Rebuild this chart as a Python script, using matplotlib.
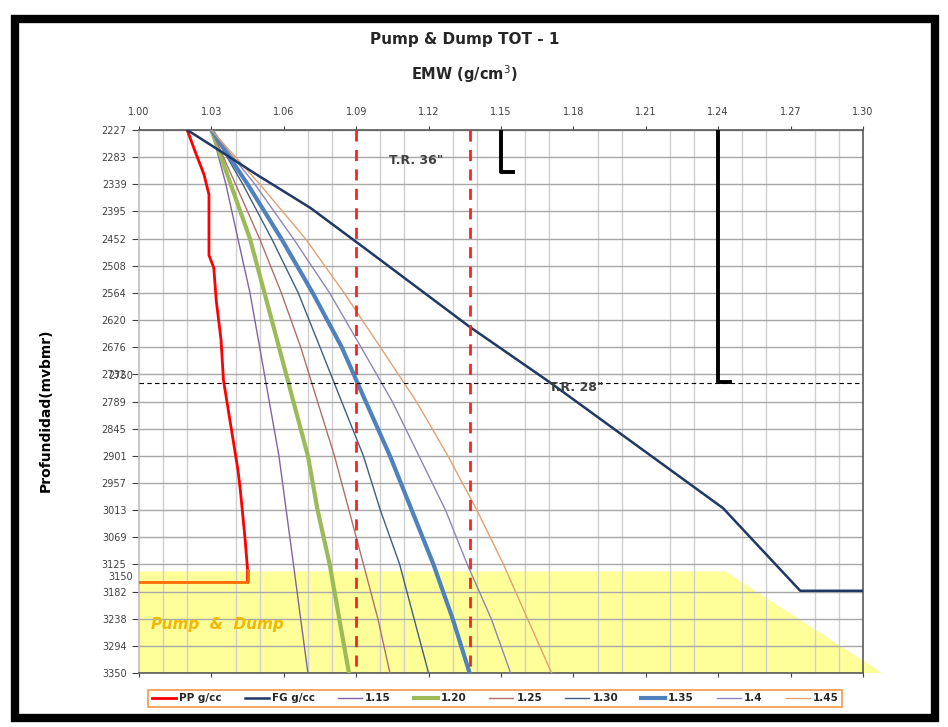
import numpy as np
import matplotlib.pyplot as plt
from matplotlib.patches import Polygon, Rectangle

# ---- data ----
depth_ticks = [2227, 2283, 2339, 2395, 2452, 2508, 2564, 2620, 2676, 2732, 2789,
               2845, 2901, 2957, 3013, 3069, 3125, 3182, 3238, 3294, 3350]
emw_ticks = [1.00, 1.03, 1.06, 1.09, 1.12, 1.15, 1.18, 1.21, 1.24, 1.27, 1.30]

pp_depth = [2227, 2268, 2320, 2361, 2382, 2486, 2512, 2579, 2661, 2744, 2806,
            2868, 2930, 2972, 3023, 3075, 3137, 3162]
pp_emw = [1.020, 1.023, 1.027, 1.029, 1.029, 1.029, 1.031, 1.032, 1.034, 1.035, 1.037,
          1.039, 1.041, 1.042, 1.043, 1.044, 1.045, 1.045]
pp_tail_depth = [3137, 3162, 3162]
pp_tail_emw = [1.045, 1.045, 1.000]

fg_depth = [2227, 2262, 2320, 2388, 2477, 2634, 2748, 3009, 3180, 3180]
fg_emw = [1.020, 1.031, 1.049, 1.071, 1.095, 1.137, 1.170, 1.242, 1.274, 1.300]

fan_depth = [2227, 2339, 2452, 2564, 2676, 2789, 2901, 3013, 3125, 3238, 3350]
fan_115 = [1.030, 1.036, 1.041, 1.046, 1.050, 1.054, 1.058, 1.061, 1.064, 1.067, 1.070]
fan_120 = [1.030, 1.038, 1.046, 1.052, 1.058, 1.064, 1.070, 1.074, 1.079, 1.083, 1.087]
fan_125 = [1.030, 1.040, 1.050, 1.059, 1.067, 1.074, 1.081, 1.087, 1.093, 1.099, 1.104]
fan_130 = [1.030, 1.043, 1.055, 1.066, 1.075, 1.084, 1.093, 1.100, 1.108, 1.114, 1.120]
fan_135 = [1.030, 1.045, 1.059, 1.072, 1.084, 1.094, 1.104, 1.113, 1.122, 1.130, 1.137]
fan_140 = [1.030, 1.048, 1.064, 1.079, 1.092, 1.105, 1.116, 1.127, 1.136, 1.146, 1.154]
fan_145 = [1.030, 1.050, 1.069, 1.085, 1.100, 1.115, 1.128, 1.140, 1.151, 1.161, 1.171]

casing_emw = [1.090, 1.137]
shoe_36 = [1.150, 2314]
shoe_28 = [1.240, 2748]
tr28_depth = 2750
pd_zone_emw = [1.000, 1.243, 1.308, 1.000]
pd_zone_depth = [3140, 3140, 3350, 3350]

fan_styles = [
    ('1.15', fan_115, '#8064A2', 1.0),
    ('1.20', fan_120, '#9BBB59', 3.0),
    ('1.25', fan_125, '#B0706A', 1.0),
    ('1.30', fan_130, '#3F5F7F', 1.0),
    ('1.35', fan_135, '#4F81BD', 3.0),
    ('1.4', fan_140, '#8C86B8', 1.0),
    ('1.45', fan_145, '#E3A070', 1.0),
]


def main():
    fig = plt.figure(figsize=(9.48, 7.27), dpi=100)
    ax = fig.add_axes([0.1466, 0.0743, 0.7637, 0.7469])

    # pump & dump zone
    ax.add_patch(Polygon(list(zip(pd_zone_emw, pd_zone_depth)), closed=True,
                         facecolor='#FFFF99', edgecolor='none', zorder=0.2, clip_on=False))

    handles = []
    h, = ax.plot(pp_emw, pp_depth, color='#FF0000', lw=2, zorder=4, label='PP g/cc')
    handles.append(h)
    ax.plot(pp_tail_emw, pp_tail_depth, color='#FF6A00', lw=2, zorder=4)
    h, = ax.plot(fg_emw, fg_depth, color='#1F3864', lw=1.8, zorder=4, label='FG g/cc')
    handles.append(h)
    for lab, vals, col, lw in fan_styles:
        h, = ax.plot(vals, fan_depth, color=col, lw=lw, zorder=3, label=lab)
        handles.append(h)

    # casing seats
    for c in casing_emw:
        ax.plot([c, c], [depth_ticks[0], depth_ticks[-1]], color='#FF2020', lw=2,
                ls=(0, (4, 3)), zorder=5)
    ax.plot([shoe_36[0], shoe_36[0], shoe_36[0] + 0.005],
            [depth_ticks[0], shoe_36[1], shoe_36[1]], color='black', lw=2.8, zorder=5)
    ax.plot([shoe_28[0], shoe_28[0], shoe_28[0] + 0.005],
            [depth_ticks[0], shoe_28[1], shoe_28[1]], color='black', lw=2.8, zorder=5)
    ax.axhline(tr28_depth, color='black', lw=0.8, ls=(0, (4, 3)), zorder=5)

    ax.text(1.1035, 2290, 'T.R. 36"', fontsize=9, fontweight='bold', color='#404040',
            va='center', ha='left', zorder=6)
    ax.text(1.170, 2760, 'T.R. 28"', fontsize=9, fontweight='bold', color='#404040',
            va='center', ha='left', zorder=6)
    ax.text(1.005, 3250, 'Pump  &  Dump', fontsize=11, fontweight='bold', style='italic',
            color='#F2B705', va='center', ha='left', zorder=6)

    # axes
    ax.set_xlim(1.00, 1.30)
    ax.set_ylim(depth_ticks[-1], depth_ticks[0])
    ax.xaxis.tick_top()
    ax.set_xticks(emw_ticks)
    ax.set_xticklabels([f'{v:.2f}' for v in emw_ticks])
    ax.set_xticks(np.arange(1.00, 1.3001, 0.01), minor=True)
    ax.set_yticks(depth_ticks)
    ax.set_yticklabels([str(d) for d in depth_ticks])
    ax.set_yticks([2733, 3150], minor=True)
    ax.set_yticklabels(['2750', '3150'], minor=True)
    ax.tick_params(axis='x', which='both', top=True, bottom=True, labelbottom=False,
                   length=3, labelsize=7, colors='#404040', pad=6)
    ax.tick_params(axis='x', which='minor', length=0)
    ax.tick_params(axis='y', which='both', length=5, labelsize=7, colors='#404040', pad=4)
    ax.tick_params(axis='y', which='minor', length=0)

    ax.set_axisbelow(True)
    ax.grid(True, axis='y', which='major', color='#A8A8A8', lw=1)
    ax.grid(True, axis='x', which='minor', color='#CFCFCF', lw=1)
    for side in ['top', 'right', 'bottom', 'left']:
        ax.spines[side].set_color('#595959')
        ax.spines[side].set_linewidth(1.2)
    ax.spines['left'].set_color('#BFBFBF')

    fig.text(0.49, 0.945, 'Pump & Dump TOT - 1', ha='center', va='center',
             fontsize=11, fontweight='bold', color='#262626')
    fig.text(0.49, 0.898, 'EMW (g/cm$^3$)', ha='center', va='center',
             fontsize=10.5, fontweight='bold', color='#262626')
    fig.text(0.048, 0.436, 'Profundidad(mvbmr)', ha='center', va='center', rotation=90,
             fontsize=10, fontweight='bold', color='black')

    leg = fig.legend(handles=handles, loc='lower left', ncol=9, mode='expand',
                     bbox_to_anchor=(0.151, 0.0206, 0.743, 0.030), fontsize=7.5,
                     handlelength=2.3, handletextpad=0.3, columnspacing=1.0,
                     borderpad=0.35, fancybox=False, framealpha=1)
    leg.get_frame().set_edgecolor('#F79646')
    leg.get_frame().set_linewidth(1.2)
    for t in leg.get_texts():
        t.set_fontweight('bold')
        t.set_color('#262626')

    # outer black frame
    fig.patches.append(Rectangle((0.016, 0.012), 0.97, 0.962, transform=fig.transFigure,
                                 fill=False, edgecolor='black', lw=6))

    plt.savefig('out.png', dpi=100)


if __name__ == '__main__':
    main()
